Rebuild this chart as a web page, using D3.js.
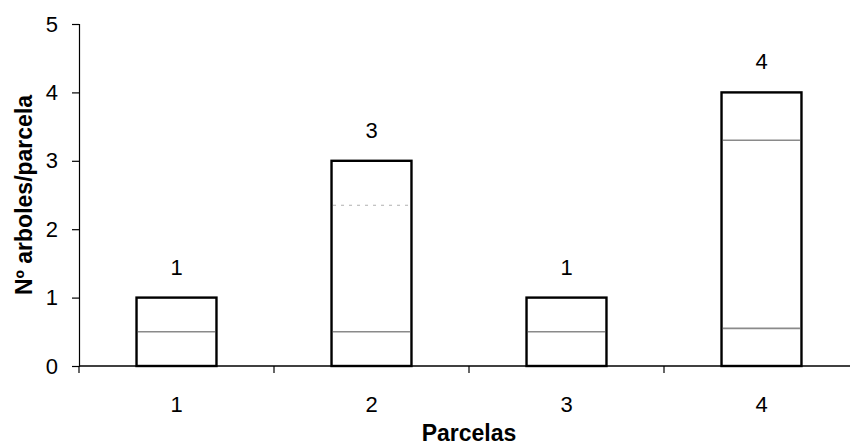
<!DOCTYPE html>
<html>
<head>
<meta charset="utf-8">
<script src="https://cdn.jsdelivr.net/npm/d3@7"></script>
<style>
  html, body { margin: 0; padding: 0; background: #fff; }
  svg { display: block; }
  text { font-family: "Liberation Sans", Arial, sans-serif; fill: #000; }
</style>
</head>
<body>
<svg id="chart" width="850" height="448"></svg>
<script>
// Plots and their tree counts
const parcelas = ["1", "2", "3", "4"];
const totales = [1, 3, 1, 4];
// Stacked pieces of each bar (bottom to top), summing to the totals
const tramos = [
  [0.5, 0.5],
  [0.5, 1.85, 0.65],
  [0.5, 0.5],
  [0.55, 2.75, 0.7]
];
const yTicks = [0, 1, 2, 3, 4, 5];

const W = 850, H = 448;
const m = { left: 79, right: -9, top: 24, bottom: 82 };
const svg = d3.select("#chart");

const x = d3.scaleBand().domain(parcelas).range([m.left, W - m.right]).padding(0);
const y = d3.scaleLinear().domain([0, 5]).range([H - m.bottom, m.top]);
const barW = x.bandwidth() * 0.41;

// Bars: white stacked pieces, black outline around the whole column
const g = svg.append("g");
parcelas.forEach((p, i) => {
  const cx = x(p) + x.bandwidth() / 2;
  let acc = 0;
  const cuts = [];
  tramos[i].forEach((v, k) => {
    acc += v;
    if (k < tramos[i].length - 1) cuts.push(acc);
  });
  g.append("rect")
    .attr("x", cx - barW / 2)
    .attr("y", y(totales[i]))
    .attr("width", barW)
    .attr("height", y(0) - y(totales[i]))
    .attr("fill", "#fff")
    .attr("stroke", "#000")
    .attr("stroke-width", 2.4);
  cuts.forEach((c, k) => {
    const faint = (i === 1 && k === 1);
    g.append("line")
      .attr("x1", cx - barW / 2 + 1.5)
      .attr("x2", cx + barW / 2 - 1.5)
      .attr("y1", y(c))
      .attr("y2", y(c))
      .attr("stroke", faint ? "#b0b0b0" : "#8a8a8a")
      .attr("stroke-width", faint ? 1 : 1.6)
      .attr("stroke-dasharray", faint ? "3,5" : null);
  });
  g.append("text")
    .attr("x", cx)
    .attr("y", y(totales[i]) - 23)
    .attr("text-anchor", "middle")
    .attr("font-size", 22)
    .text(totales[i]);
});

// Y axis
const yAxis = svg.append("g")
  .attr("transform", `translate(${m.left},0)`)
  .call(d3.axisLeft(y).tickValues(yTicks).tickFormat(d3.format("d")).tickSize(7).tickPadding(14));
yAxis.select(".domain").attr("stroke", "#000").attr("stroke-width", 1.2);
yAxis.selectAll(".tick line").attr("stroke", "#000").attr("stroke-width", 1.2);
yAxis.selectAll(".tick text")
  .attr("font-size", 22)
  .attr("font-family", "Liberation Sans, Arial, sans-serif")
  .attr("fill", "#000");

// X axis: ticks sit at the boundaries between plots
const xAxisG = svg.append("g").attr("transform", `translate(0,${y(0)})`);
xAxisG.append("line")
  .attr("x1", m.left).attr("x2", W)
  .attr("stroke", "#000").attr("stroke-width", 1.6);
const bounds = parcelas.map(p => x(p)).concat([x(parcelas[parcelas.length - 1]) + x.bandwidth()]);
xAxisG.selectAll("line.tk").data(bounds).join("line")
  .attr("class", "tk")
  .attr("x1", d => d).attr("x2", d => d)
  .attr("y1", 0).attr("y2", 7)
  .attr("stroke", "#000").attr("stroke-width", 1.2);
xAxisG.selectAll("text.lbl").data(parcelas).join("text")
  .attr("class", "lbl")
  .attr("x", d => x(d) + x.bandwidth() / 2)
  .attr("y", 46)
  .attr("text-anchor", "middle")
  .attr("font-size", 22)
  .text(d => d);

// Axis titles
svg.append("text")
  .attr("x", (m.left + x(parcelas[3]) + x.bandwidth()) / 2)
  .attr("y", 441)
  .attr("text-anchor", "middle")
  .attr("font-size", 23)
  .attr("font-weight", "bold")
  .text("Parcelas");
svg.append("text")
  .attr("transform", `translate(32,${(y(0) + y(5)) / 2}) rotate(-90)`)
  .attr("text-anchor", "middle")
  .attr("font-size", 23)
  .attr("font-weight", "bold")
  .text("Nº arboles/parcela");
</script>
</body>
</html>
